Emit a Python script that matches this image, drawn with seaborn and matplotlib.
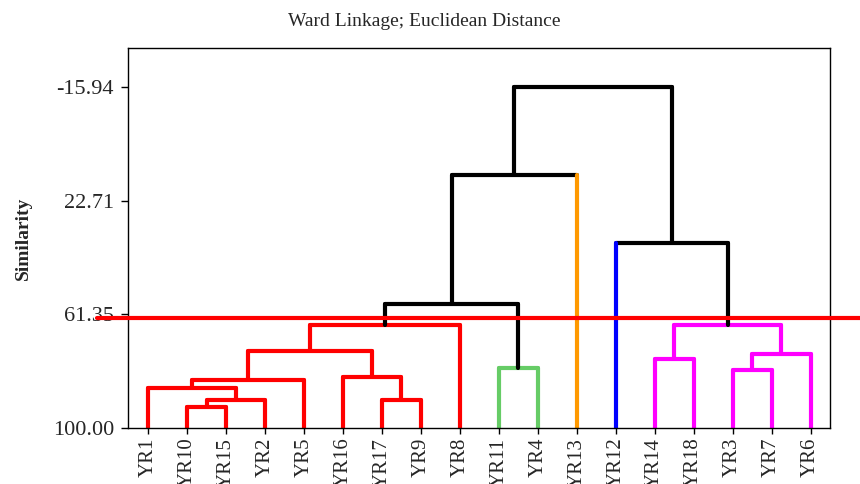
import pandas as pd
import matplotlib.pyplot as plt
import seaborn as sns

# hojas del dendrograma, en el orden en que aparecen
leaves = ['YR1', 'YR10', 'YR15', 'YR2', 'YR5', 'YR16', 'YR17', 'YR9', 'YR8',
          'YR11', 'YR4', 'YR13', 'YR12', 'YR14', 'YR18', 'YR3', 'YR7', 'YR6']
leaf_cluster = ['red'] * 9 + ['green'] * 2 + ['orange', 'blue'] + ['magenta'] * 5

# uniones: (hijo izq, hijo der, similitud); nodos nuevos se numeran desde 18
merge_left = [1, 6, 18, 0, 21, 5, 15, 9, 13, 24, 22, 28, 26, 29, 12, 31, 33]
merge_right = [2, 7, 3, 20, 4, 19, 16, 10, 14, 17, 23, 8, 27, 25, 30, 11, 32]
merge_sim = [92.96, 90.48, 90.48, 86.5, 83.68, 82.77, 80.28, 79.49, 76.65,
             74.95, 73.82, 65.1, 64.9, 58.0, 37.2, 13.97, -15.94]

y_ticks = [-15.94, 22.71, 61.35, 100.00]
cut_level = 62.7

palette = {'red': '#FF0000', 'green': '#66CC66', 'orange': '#FF9900',
           'blue': '#0000FF', 'magenta': '#FF00FF', 'black': '#000000'}

# posiciones y clusters de cada nodo
pos_x = {i: i + 1 for i in range(len(leaves))}
pos_y = {i: 100.0 for i in range(len(leaves))}
clus = {i: c for i, c in enumerate(leaf_cluster)}
rows = []
seg = 0
for k, (a, b, s) in enumerate(zip(merge_left, merge_right, merge_sim)):
    n = len(leaves) + k
    pos_x[n] = (pos_x[a] + pos_x[b]) / 2
    pos_y[n] = s
    clus[n] = clus[a] if clus[a] == clus[b] and clus[a] is not None else None
    node_col = clus[n] if clus[n] else 'black'
    for c in (a, b):
        if clus[n]:
            col = clus[n]
        elif c < len(leaves):
            col = clus[c]
        else:
            col = 'black'
        rows += [(seg, pos_x[c], pos_y[c], col), (seg, pos_x[c], s, col)]
        seg += 1
    rows += [(seg, pos_x[a], s, node_col), (seg, pos_x[b], s, node_col)]
    seg += 1

df = pd.DataFrame(rows, columns=['seg', 'x', 'y', 'color'])

sns.set_style("ticks")
plt.rcParams['font.family'] = ['Liberation Serif', 'DejaVu Serif']

fig = plt.figure(figsize=(8.6, 4.84), dpi=100)
ax = fig.add_axes([128 / 860, 56 / 484, 702 / 860, 380 / 484])

sns.lineplot(data=df, x='x', y='y', units='seg', hue='color', palette=palette,
             estimator=None, sort=False, lw=3, legend=False, ax=ax)

# linea de corte, sale del marco por ambos lados
ax.axhline(cut_level, xmin=-0.044, xmax=1.06, color='#FF0000', lw=3, clip_on=False, zorder=5)

ax.set_xlim(0.48, 18.5)
ax.set_ylim(100, -29.2)
ax.set_xticks(range(1, len(leaves) + 1))
ax.set_xticklabels(leaves, rotation=90, fontsize=15)
ax.set_yticks(y_ticks)
ax.set_yticklabels([f'{v:.2f}' for v in y_ticks], fontsize=16)
ax.tick_params(axis='x', direction='out', length=4, width=1, color='black', pad=3)
ax.tick_params(axis='y', direction='out', length=5, width=1, color='black', pad=5)
for sp in ax.spines.values():
    sp.set_visible(True)
    sp.set_color('black')
    sp.set_linewidth(1)

ax.set_xlabel('')
ax.set_ylabel('Similarity', fontsize=14, fontweight='bold')
ax.yaxis.set_label_coords(-0.137, 0.5)

fig.text(424 / 860, 1 - 22 / 484, 'Ward Linkage; Euclidean Distance',
         ha='center', va='center', fontsize=14)

fig.savefig('out.png', dpi=100)
